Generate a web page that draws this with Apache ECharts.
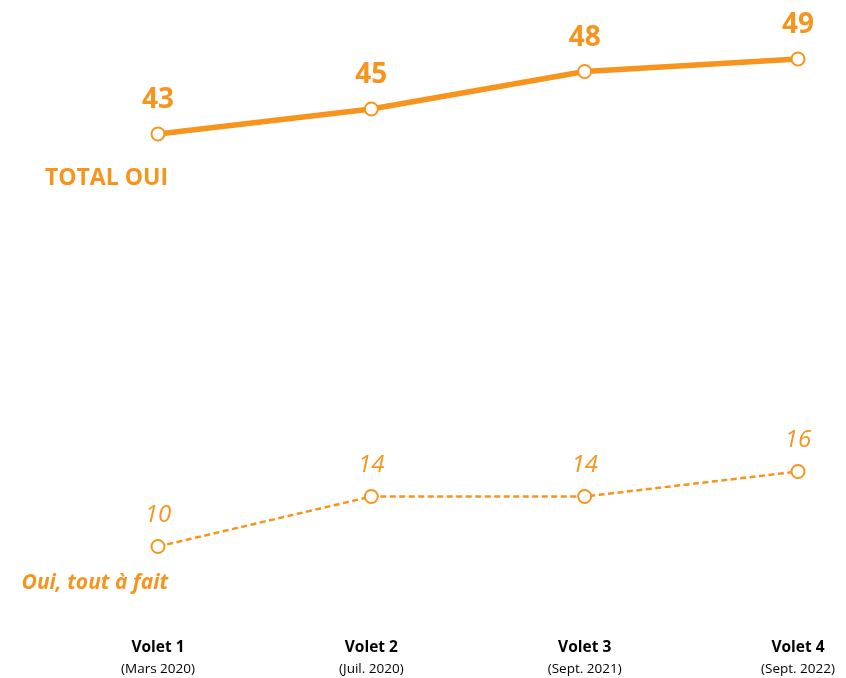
<!DOCTYPE html>
<html>
<head>
<meta charset="utf-8">
<script src="https://cdn.jsdelivr.net/npm/echarts@6/dist/echarts.min.js"></script>
<style>html,body{margin:0;padding:0;background:#fff}#c{width:846px;height:678px}</style>
</head>
<body>
<div id="c"></div>
<script>
const volets = ['Volet 1', 'Volet 2', 'Volet 3', 'Volet 4'];
const periods = ['(Mars 2020)', '(Juil. 2020)', '(Sept. 2021)', '(Sept. 2022)'];
const totalOui = [43, 45, 48, 49];
const toutAFait = [10, 14, 14, 16];
const totalLabel = 'TOTAL OUI';
const toutLabel = 'Oui, tout à fait';

const ORANGE = '#F7941D';
const FONT = 'Open Sans';

const chart = echarts.init(document.getElementById('c'), null, {renderer: 'canvas'});
chart.setOption({
  animation: false,
  backgroundColor: '#fff',
  grid: {left: 158, right: 48, top: 46.5, bottom: 56.5, containLabel: false},
  xAxis: {
    type: 'category',
    data: volets.map((v, i) => v + '\n' + periods[i]),
    boundaryGap: false,
    axisLine: {show: false},
    axisTick: {show: false},
    splitLine: {show: false},
    axisLabel: {
      margin: 16,
      interval: 0,
      formatter: function (val) {
        const p = val.split('\n');
        return '{a|' + p[0] + '}\n{b|' + p[1] + '}';
      },
      rich: {
        a: {fontFamily: FONT, fontWeight: 'bold', fontSize: 15.5, color: '#000', lineHeight: 21},
        b: {fontFamily: FONT, fontSize: 13.5, color: '#000', lineHeight: 21}
      }
    }
  },
  yAxis: {
    type: 'value', min: 4, max: 50,
    show: false,
    splitLine: {show: false}
  },
  series: [
    {
      name: totalLabel,
      type: 'line',
      data: totalOui,
      symbol: 'circle',
      symbolSize: 13,
      itemStyle: {color: '#fff', borderColor: ORANGE, borderWidth: 2},
      lineStyle: {color: ORANGE, width: 5.5},
      label: {
        show: true, position: 'top', distance: 12,
        fontFamily: FONT, fontWeight: 'bold', fontSize: 28, color: ORANGE
      },
      markPoint: {
        symbol: 'circle', symbolSize: 0,
        data: [{coord: [0, totalOui[0]], value: totalLabel}],
        label: {
          show: true, position: 'inside', align: 'right', verticalAlign: 'middle',
          offset: [10, 44], formatter: totalLabel,
          fontFamily: FONT, fontWeight: 'bold', fontSize: 23, color: ORANGE
        }
      },
      z: 3
    },
    {
      name: toutLabel,
      type: 'line',
      data: toutAFait,
      symbol: 'circle',
      symbolSize: 13,
      itemStyle: {color: '#fff', borderColor: ORANGE, borderWidth: 2},
      lineStyle: {color: ORANGE, width: 2.5, type: [6, 3.5]},
      label: {
        show: true, position: 'top', distance: 12,
        fontFamily: FONT, fontStyle: 'italic', fontSize: 24, color: ORANGE
      },
      markPoint: {
        symbol: 'circle', symbolSize: 0,
        data: [{coord: [0, toutAFait[0]], value: toutLabel}],
        label: {
          show: true, position: 'inside', align: 'right', verticalAlign: 'middle',
          offset: [10, 37], formatter: toutLabel,
          fontFamily: FONT, fontWeight: 'bold', fontStyle: 'italic', fontSize: 21, color: ORANGE
        }
      },
      z: 3
    }
  ]
});
</script>
</body>
</html>
